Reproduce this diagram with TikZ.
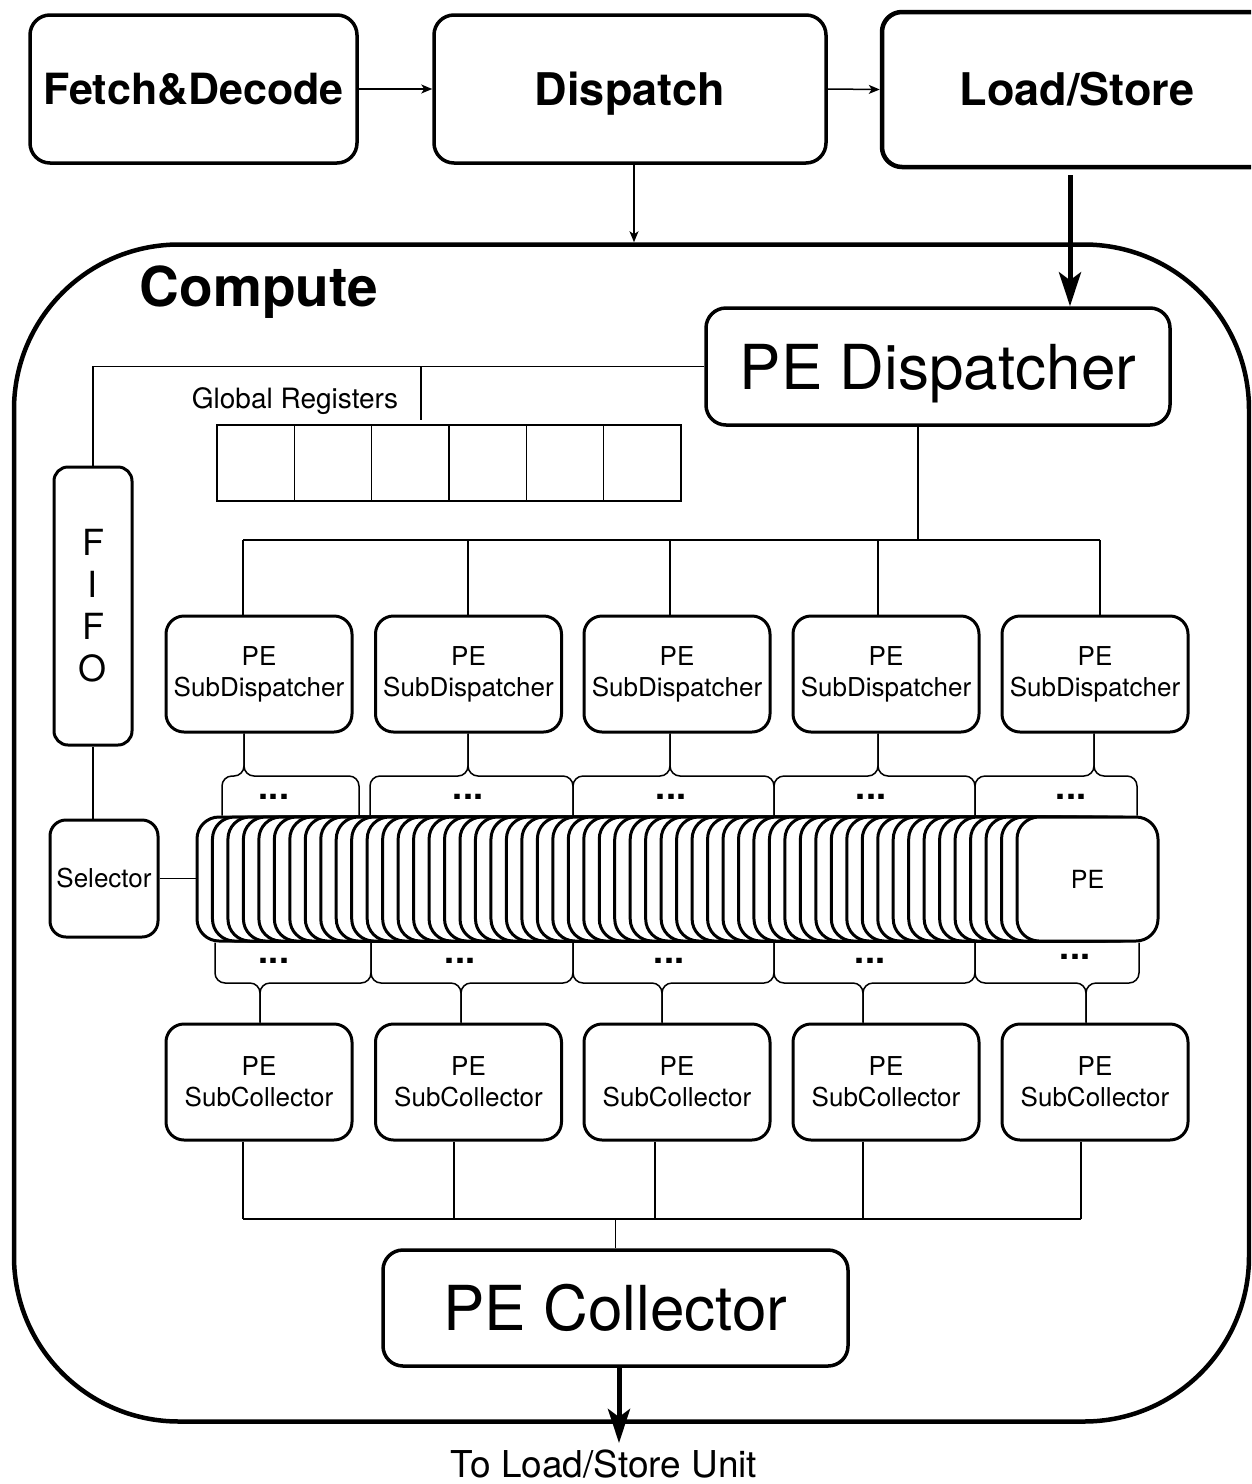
\documentclass[tikz,border=0pt]{standalone}
\usepackage{fontspec}
\setmainfont{TeX Gyre Heros}
\usetikzlibrary{arrows.meta}
\begin{document}
\begin{tikzpicture}[x=1pt,y=-1pt]
\tikzset{
  box/.style={draw, line width=3.5pt, rounded corners=20pt, fill=white, inner sep=0pt, align=center},
  topbox/.style={box, font=\fontsize{45}{50}\selectfont\bfseries, text height=32pt, text depth=0pt, minimum height=148pt},
  bigbox/.style={box, font=\fontsize{62}{70}\selectfont, text height=45pt, text depth=0pt, minimum height=117pt, minimum width=464pt},
  subbox/.style={box, line width=3pt, rounded corners=18pt, minimum width=186pt, minimum height=116pt, font=\fontsize{26}{31}\selectfont},
  pebox/.style={draw, line width=3pt, rounded corners=22pt, fill=white, minimum width=141pt, minimum height=124pt, inner sep=0pt},
  reg/.style={draw, line width=1.5pt, minimum width=77.33pt, minimum height=76pt, inner sep=0pt},
  conn/.style={line width=1.5pt},
  thinarrow/.style={conn, -{Stealth[length=11pt,width=9pt,inset=3pt]}},
  bigarrow/.style={line width=5pt, -{Stealth[length=34pt,width=22pt,inset=8pt]}},
  brace/.style={conn, rounded corners=10pt},
  dots/.style={font=\fontsize{36}{36}\selectfont\bfseries, inner sep=0pt},
}
\clip (0,0) rectangle (1251,1484);
\fill[white] (0,0) rectangle (1251,1484);

% Compute container
\node[draw, line width=4.5pt, rounded corners=165pt, minimum width=1235pt, minimum height=1177pt, inner sep=0pt] (compute) at (631.5,833) {};
\node[font=\fontsize{55}{60}\selectfont\bfseries, anchor=base] (computelabel) at (259,306) {Compute};

% top row
\node[topbox, minimum width=327pt, font=\fontsize{43}{50}\selectfont\bfseries, text height=31pt] (fetch) at (193.5,89) {Fetch\&Decode};
\node[topbox, minimum width=392pt] (dispatch) at (630,89) {Dispatch};
\node[topbox, minimum width=390pt, minimum height=155pt, line width=4.5pt] (ls) at (1077,89.5) {Load/Store};

\draw[thinarrow] (fetch.east) -- (dispatch.west);
\draw[thinarrow] (dispatch.east) -- (ls.west);
\coordinate (dtap) at (634,163);
\draw[thinarrow] (dtap) -- (dtap |- compute.north);
\coordinate (lsout) at (1070,175);

% PE Dispatcher
\node[bigbox] (pedisp) at (938,366.5) {PE Dispatcher};
\draw[bigarrow] (lsout) -- (lsout |- pedisp.north);

% FIFO and selector
\node[box, line width=3pt, rounded corners=14pt, minimum width=78pt, minimum height=278pt, font=\fontsize{36}{42}\selectfont] (fifo) at (93,606) {F\\I\\F\\O};
\node[box, line width=3pt, rounded corners=16pt, minimum width=108pt, minimum height=117pt, font=\fontsize{26}{31}\selectfont] (selector) at (104,878.5) {Selector};

\draw[conn] (pedisp.west) -| (fifo.north);
\coordinate (grtap) at (421,420);
\draw[conn] (grtap |- pedisp.west) -- (grtap);
\draw[conn] (fifo.south) -- (fifo.south |- selector.north);

% Global registers
\node[font=\fontsize{28}{32}\selectfont] (grlabel) at (295,401) {Global Registers};
\foreach \i in {0,...,5} {
  \node[reg] (r\i) at ({217+77.33*\i+38.67},463) {};
}

% Sub dispatchers and sub collectors
\foreach \x/\i in {259/1,468.5/2,677/3,886/4,1095/5} {
  \node[subbox] (sd\i) at (\x,674) {PE\\SubDispatcher};
  \node[subbox] (sc\i) at (\x,1082) {PE\\SubCollector};
}

% dispatcher bus
\coordinate (busd) at (918,540);
\draw[conn] (busd |- pedisp.south) -- (busd);
\draw[conn] (243,540) -- (1100,540);
\foreach \x/\i in {243/1,468/2,670/3,878/4,1100/5} {
  \draw[conn] (\x,540) -- (\x,0 |- sd\i.north);
}

% PE stack
\foreach \k in {0,...,53} {
  \node[pebox] (pe\k) at ({267.5+\k*15.4717},879) {};
}
\node[font=\fontsize{25}{30}\selectfont] (pelabel) at (pe53.center) {PE};
\draw[conn] (selector.east) -- (selector.east -| pe0.west);

% top braces
\foreach \L/\T/\R/\i in {222/244/359/1, 370/468/573/2, 573/670/774/3, 774/878/975/4, 975/1094/1137/5} {
  \draw[brace] (\L,0 |- pe0.north) -- (\L,776) -- (\T,776) -- (\T,0 |- sd\i.south);
  \draw[brace] (\R,0 |- pe0.north) -- (\R,776) -- (\T,776) -- (\T,0 |- sd\i.south);
}
\foreach \x/\i in {274/1,468/2,671/3,871/4,1071/5} {
  \node[dots] (tdots\i) at (\x,797) {...};
}

% bottom braces
\foreach \L/\T/\R/\i in {215/260/371/1, 371/461/573/2, 573/662/774/3, 774/863/975/4, 975/1086/1139/5} {
  \draw[brace] (\L,0 |- pe0.south) -- (\L,983) -- (\T,983) -- (\T,0 |- sc\i.north);
  \draw[brace] (\R,0 |- pe0.south) -- (\R,983) -- (\T,983) -- (\T,0 |- sc\i.north);
}
\foreach \x/\y/\i in {274/961/1,460/961/2,669/961/3,870/961/4,1075/957/5} {
  \node[dots] (bdots\i) at (\x,\y) {...};
}

% PE Collector
\node[bigbox, minimum width=465pt, minimum height=116pt] (pecol) at (615.5,1308) {PE Collector};
\foreach \x/\i in {243/1,454/2,655/3,863/4,1081/5} {
  \draw[conn] (\x,0 |- sc\i.south) -- (\x,1219);
}
\draw[conn] (243,1219) -- (1081,1219);
\draw[conn] (pecol.north) -- (pecol.north |- 0,1219);

\coordinate (tolsu) at (619,1443);
\draw[bigarrow] (tolsu |- pecol.south) -- (tolsu);
\node[font=\fontsize{37}{42}\selectfont, anchor=base, inner sep=0pt] (tolsutext) at (604,1477) {To Load/Store Unit};
\end{tikzpicture}
\end{document}
